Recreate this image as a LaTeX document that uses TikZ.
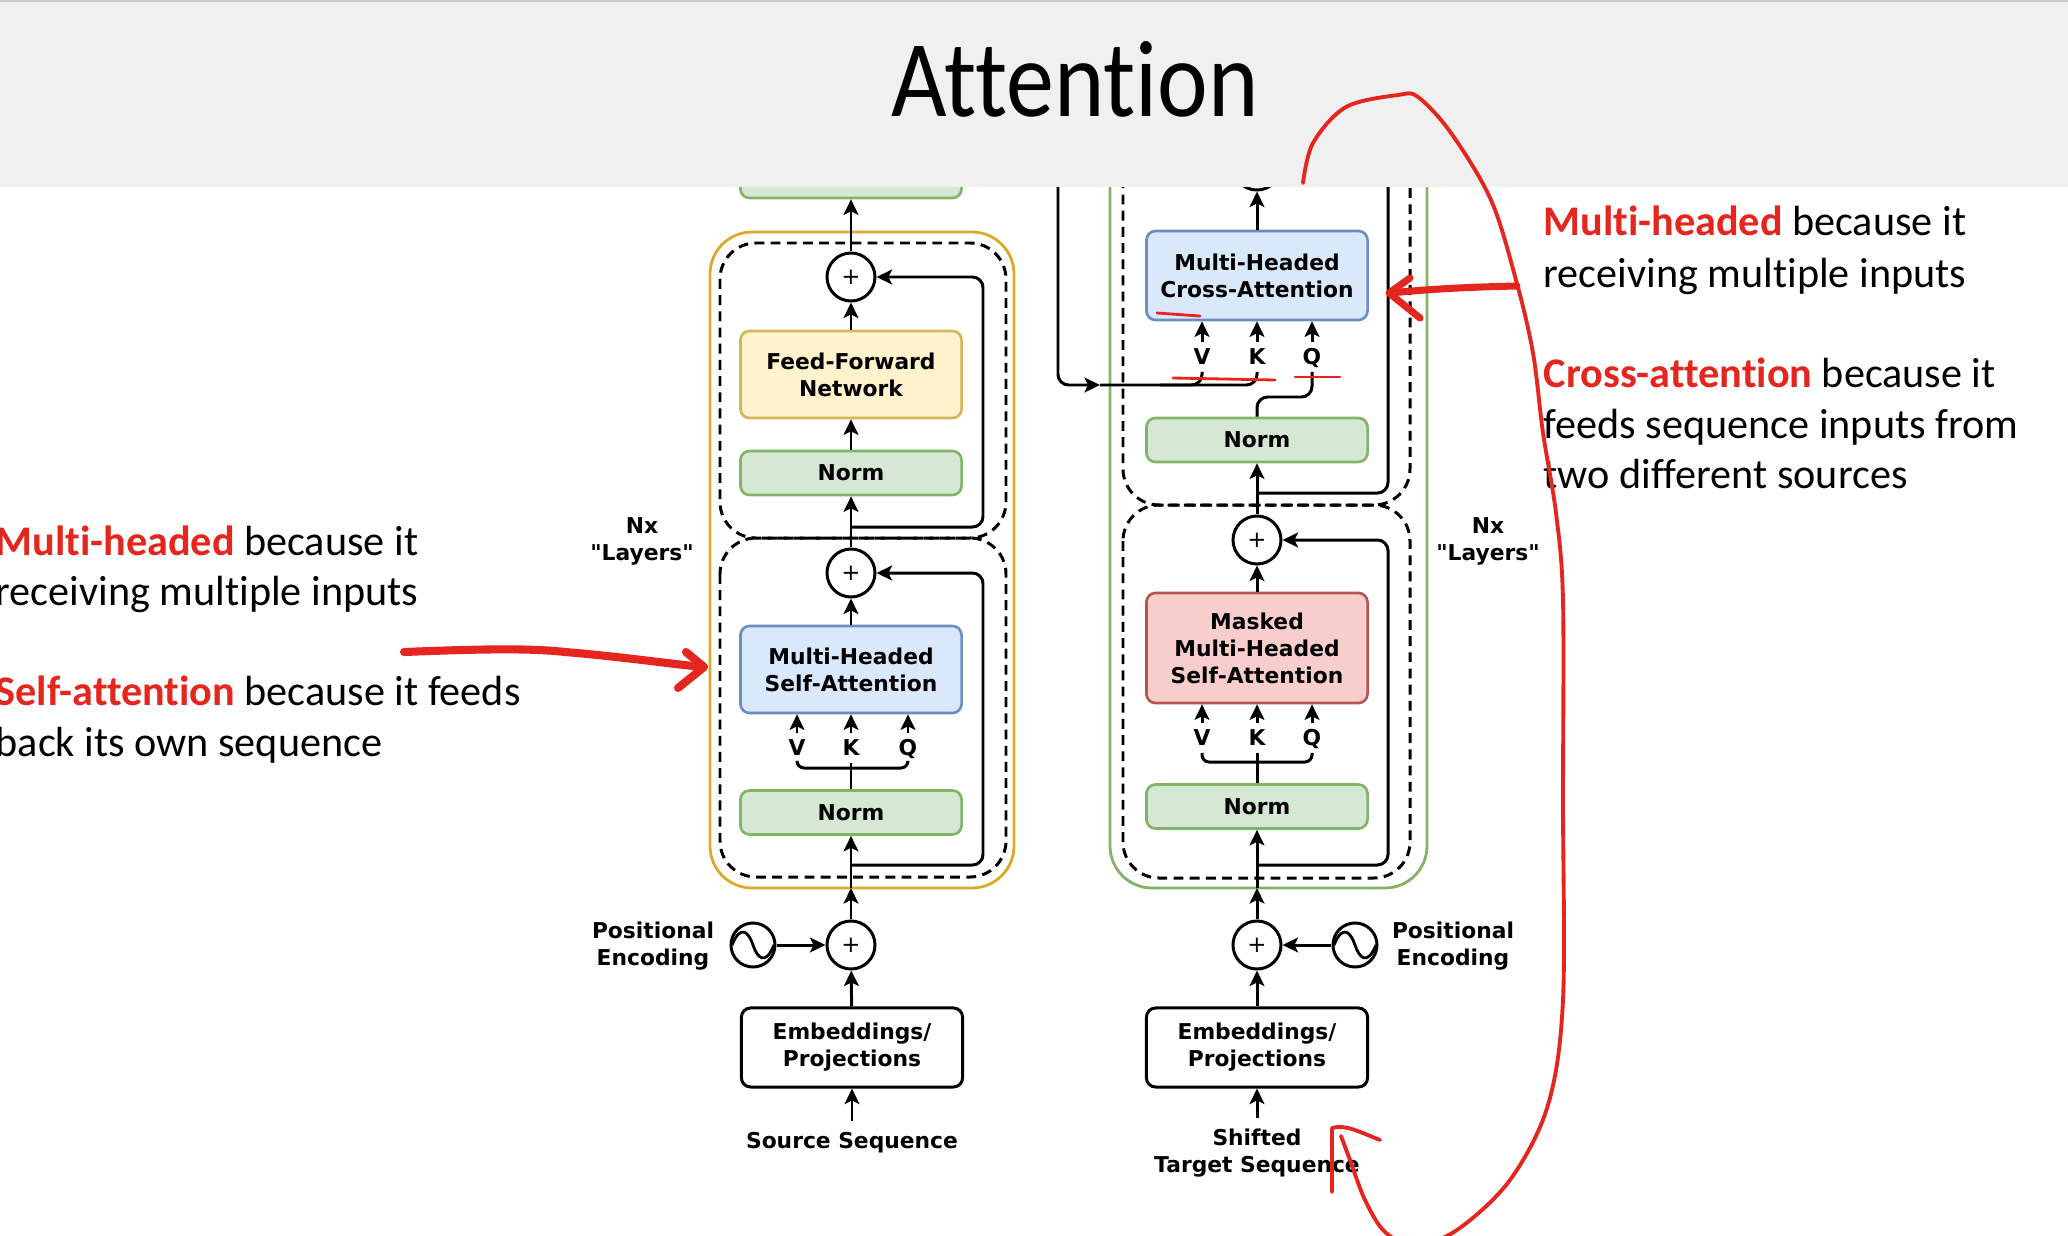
\documentclass[tikz,border=0pt]{standalone}
\usepackage{fontspec}
\setmainfont{Carlito}[Ligatures={TeX,NoCommon}]
\newfontfamily\diagfont{DejaVu Sans}
\usetikzlibrary{positioning,calc,arrows.meta}

\definecolor{bandgrey}{HTML}{F0F0F0}
\definecolor{bandline}{HTML}{C8C8C8}
\definecolor{normfill}{HTML}{D5E8D4}
\definecolor{normline}{HTML}{82B366}
\definecolor{ffnfill}{HTML}{FFF2CC}
\definecolor{ffnline}{HTML}{D6B656}
\definecolor{attfill}{HTML}{DAE8FC}
\definecolor{attline}{HTML}{6C8EBF}
\definecolor{maskfill}{HTML}{F8CECC}
\definecolor{maskline}{HTML}{B85450}
\definecolor{encline}{RGB}{218,170,40}
\definecolor{decline}{HTML}{82B366}
\definecolor{inkred}{RGB}{228,38,30}

\newcommand{\diag}{\diagfont\bfseries\fontsize{6.2}{7.7}\selectfont}
\newcommand{\plusfont}{\diagfont\fontsize{6.5}{7}\selectfont}
\newcommand{\notefont}{\fontsize{12}{14.5}\selectfont}
\newcommand{\hl}[1]{\textcolor{inkred}{\textbf{#1}}}
\newcommand{\sinewave}[1]{%
  \draw[line width=0.8pt] ($(#1)+(-21,0)$) .. controls ($(#1)+(-12,-22)$) and ($(#1)+(-4,-12)$) .. (#1.center)
    .. controls ($(#1)+(4,12)$) and ($(#1)+(12,22)$) .. ($(#1)+(21,0)$);}

\begin{document}
\begin{tikzpicture}[x=0.01cm, y=-0.01cm,
    wire/.style={line width=0.85pt},
    arr/.style={wire, -{Stealth[length=4.4pt, width=4.2pt, inset=1pt]}},
    blk/.style={draw, rounded corners=2.6pt, line width=0.75pt, minimum width=2.21cm, inner sep=0pt, align=center, font=\diag},
    normbox/.style={blk, fill=normfill, draw=normline, minimum height=0.44cm},
    ffnbox/.style={blk, fill=ffnfill, draw=ffnline, minimum height=0.87cm},
    attbox/.style={blk, fill=attfill, draw=attline, minimum height=0.87cm},
    maskbox/.style={blk, fill=maskfill, draw=maskline, minimum height=1.10cm},
    embbox/.style={blk, fill=white, draw=black, line width=0.85pt, minimum height=0.79cm},
    addop/.style={circle, draw, line width=0.85pt, fill=white, minimum size=0.48cm, inner sep=0pt, font=\plusfont},
    wave/.style={circle, draw, line width=0.85pt, minimum size=0.44cm, inner sep=0pt},
    lbl/.style={font=\diag, inner sep=1.6pt, text height=4.6pt, text depth=0.3pt},
    txt/.style={font=\diag, align=center, inner sep=3pt},
    sublayer/.style={draw, line width=0.85pt, dash pattern=on 2.8pt off 1.8pt, rounded corners=0.36cm},
    stack/.style={draw, line width=0.8pt, rounded corners=0.42cm},
    note/.style={font=\notefont, anchor=base west, inner sep=0pt},
    ink/.style={draw=inkred, line cap=round, line join=round},
  ]
  \useasboundingbox (0,0) rectangle (2068,1236);
  \fill[white] (0,0) rectangle (2068,1236);

  % encoder stack
  \draw[stack, draw=encline] (710,232) rectangle (1014,888);
  \draw[sublayer] (720,243) rectangle (1006,538);
  \draw[sublayer] (720,538) rectangle (1006,877);

  \node[normbox, minimum height=0.56cm] (topNorm) at (851,170) {};
  \node[addop] (eAdd2) at (851,277) {+};
  \node[ffnbox] (eFFN) at (851,374.5) {Feed-Forward\\Network};
  \node[normbox] (eNorm2) at (851,473) {Norm};
  \node[addop] (eAdd1) at (851,573) {+};
  \node[attbox] (eMHA) at (851,669.5) {Multi-Headed\\Self-Attention};
  \node[lbl] (eV) at (797,748) {V};
  \node[lbl] (eK) at (851,748) {K};
  \node[lbl] (eQ) at (908,748) {Q};
  \node[normbox] (eNorm1) at (851,812.5) {Norm};
  \node[addop] (eAddPE) at (851,945) {+};
  \node[wave] (eSine) at (753,945) {};
  \sinewave{eSine}
  \node[txt] (ePElbl) at (653,946) {Positional\\Encoding};
  \node[embbox] (eEmb) at (852,1047.5) {Embeddings/\\Projections};
  \node[txt] (eSrc) at (852,1143) {Source Sequence};
  \node[txt] (eNx) at (642,541) {Nx\\"Layers"};

  \coordinate (eRes2) at (851,527);
  \coordinate (eRes1) at (851,865);
  \coordinate (eIn) at (851,888);
  \coordinate (eBr) at (851,768);

  \draw[arr] (eAdd2) -- (topNorm);
  \draw[arr] (eFFN) -- (eAdd2);
  \draw[arr] (eNorm2) -- (eFFN);
  \draw[arr] (eAdd1) -- (eNorm2);
  \draw[arr, rounded corners=3pt] (eRes2) -| (983,277) -- (eAdd2.east);
  \draw[arr] (eMHA) -- (eAdd1);
  \foreach \h in {eV,eK,eQ}
    \draw[arr] (\h.north) -- (\h.north |- eMHA.south);
  \draw[wire, rounded corners=2pt] (eV.south) |- (eBr) -| (eQ.south);
  \draw[wire] (eNorm1.north) -- (eK.south);
  \draw[arr, rounded corners=3pt] (eRes1) -| (983,573) -- (eAdd1.east);
  \draw[arr] (eIn) -- (eNorm1);
  \draw[arr] (eAddPE) -- (eIn);
  \draw[arr] (eSine) -- (eAddPE);
  \draw[arr] (eEmb) -- (eAddPE);
  \draw[arr] (eSrc) -- (eEmb);

  % decoder stack
  \draw[stack, draw=decline] (1110,100) rectangle (1427,888);
  \draw[sublayer] (1123,110) rectangle (1410,505);
  \draw[sublayer] (1123,505) rectangle (1410,878);

  \node[addop] (dAdd2) at (1257,166) {+};
  \node[attbox, minimum height=0.89cm] (dCross) at (1257,275.5) {Multi-Headed\\Cross-Attention};
  \node[lbl] (dV) at (1202,357) {V};
  \node[lbl] (dK) at (1257,357) {K};
  \node[lbl] (dQ) at (1312,357) {Q};
  \node[normbox] (dNorm2) at (1257,440) {Norm};
  \node[addop] (dAdd1) at (1257,540) {+};
  \node[maskbox] (dMask) at (1257,648) {Masked\\Multi-Headed\\Self-Attention};
  \node[lbl] (dmV) at (1202,738) {V};
  \node[lbl] (dmK) at (1257,738) {K};
  \node[lbl] (dmQ) at (1312,738) {Q};
  \node[normbox] (dNorm1) at (1257,806.5) {Norm};
  \node[addop] (dAddPE) at (1257,945) {+};
  \node[wave] (dSine) at (1355,945) {};
  \sinewave{dSine}
  \node[txt] (dPElbl) at (1453,946) {Positional\\Encoding};
  \node[embbox] (dEmb) at (1257,1047.5) {Embeddings/\\Projections};
  \node[txt] (dTgt) at (1257,1153) {Shifted\\Target Sequence};
  \node[txt] (dNx) at (1488,541) {Nx\\"Layers"};

  \coordinate (encOut) at (1058,120);
  \coordinate (dMid) at (1100,385);
  \coordinate (dRes2) at (1257,493);
  \coordinate (dRes1) at (1257,865);
  \coordinate (dIn) at (1257,888);
  \coordinate (dBr) at (1257,762);

  \draw[arr] (dCross) -- (dAdd2);
  \foreach \h in {dV,dK,dQ}
    \draw[arr] (\h.north) -- (\h.north |- dCross.south);
  \draw[arr, rounded corners=3pt] (encOut) |- (dMid);
  \draw[wire, rounded corners=3pt] (dMid) -| (dK.south);
  \draw[wire, rounded corners=3pt] (dV.south) |- (1160,385);
  \draw[wire, rounded corners=3pt] (dNorm2.north) -- (1257,397) -| (dQ.south);
  \draw[arr, rounded corners=3pt] (dRes2) -| (1388,166) -- (dAdd2.east);
  \draw[arr] (dAdd1) -- (dNorm2);
  \draw[arr] (dMask) -- (dAdd1);
  \foreach \h in {dmV,dmK,dmQ}
    \draw[arr] (\h.north) -- (\h.north |- dMask.south);
  \draw[wire, rounded corners=2pt] (dmV.south) |- (dBr) -| (dmQ.south);
  \draw[wire] (dNorm1.north) -- (dmK.south);
  \draw[arr, rounded corners=3pt] (dRes1) -| (1388,540) -- (dAdd1.east);
  \draw[arr] (dIn) -- (dNorm1);
  \draw[arr] (dAddPE) -- (dIn);
  \draw[arr] (dSine) -- (dAddPE);
  \draw[arr] (dEmb) -- (dAddPE);
  \draw[arr] (dTgt) -- (dEmb);

  % slide header
  \fill[bandgrey] (0,0) rectangle (2068,187);
  \draw[bandline, line width=0.7pt] (0,1) -- (2068,1);
  \node[font=\fontsize{31}{31}\selectfont, anchor=base] (title) at (1075,116) {\scalebox{0.88}[1]{Attention}};

  % notes
  \node[note] (noteL1) at (-5,555) {\hl{Multi-headed} because it};
  \node[note] (noteL2) at (-5,605) {receiving multiple inputs};
  \node[note] (noteL3) at (-5,705) {\hl{Self-attention} because it feeds};
  \node[note] (noteL4) at (-5,756) {back its own sequence};
  \node[note] (noteR1) at (1543,235) {\hl{Multi-headed} because it};
  \node[note] (noteR2) at (1543,287) {receiving multiple inputs};
  \node[note] (noteR3) at (1543,387) {\hl{Cross-attention} because it};
  \node[note] (noteR4) at (1543,438) {feeds sequence inputs from};
  \node[note] (noteR5) at (1543,488) {two different sources};

  % pen marks
  \draw[ink, line width=2.3pt] (404,652) .. controls (480,649) and (530,648) .. (565,652)
    .. controls (625,657) and (670,664) .. (704,667);
  \draw[ink, line width=2.3pt] (686,652) -- (704,667) -- (678,688);
  \draw[ink, line width=2pt] (1517,286) .. controls (1470,287) and (1430,289) .. (1390,293);
  \draw[ink, line width=2pt] (1410,278) -- (1389,293) -- (1420,318);
  \draw[ink, line width=1.1pt] plot[smooth, tension=0.55] coordinates {
    (1303,183) (1313,143) (1346,107) (1398,95) (1418,97) (1451,133) (1491,200)
    (1516,280) (1533,353) (1543,433) (1556,513) (1563,600) (1563,800) (1563,1000)
    (1548,1105) (1510,1180) (1457,1230) (1415,1245) (1385,1232) (1365,1200)
    (1350,1160) (1341,1136)};
  \draw[ink, line width=1.1pt] (1332,1192) -- (1332,1128) .. controls (1345,1124) and (1360,1132) .. (1380,1140);
  \draw[ink, line width=0.8pt] (1157,313) -- (1200,316);
  \draw[ink, line width=0.8pt] (1173,378) -- (1275,380);
  \draw[ink, line width=0.8pt] (1295,377) -- (1340,377);
\end{tikzpicture}
\end{document}
